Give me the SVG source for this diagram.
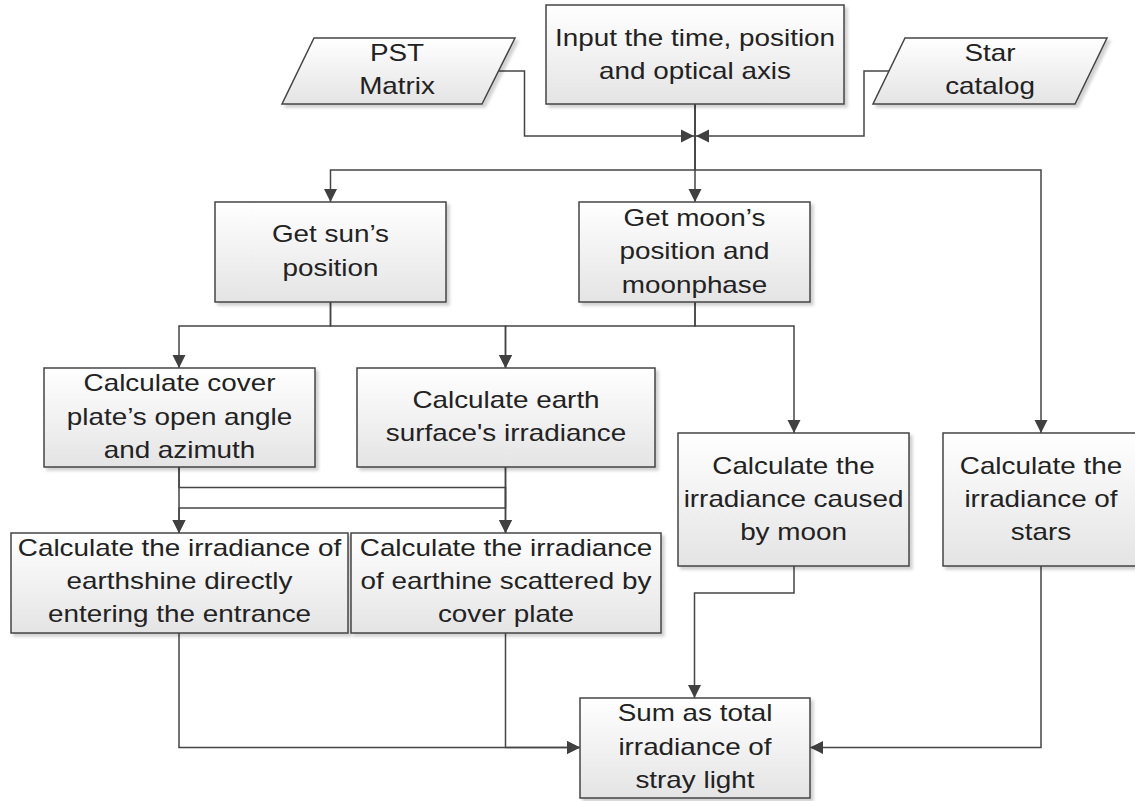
<svg xmlns="http://www.w3.org/2000/svg" width="1135" height="801" viewBox="0 0 1135 801">
<defs>
<linearGradient id="g" x1="0" y1="0" x2="0" y2="1">
<stop offset="0" stop-color="#ffffff"/>
<stop offset="1" stop-color="#e4e4e4"/>
</linearGradient>
<filter id="sh" x="-10%" y="-10%" width="130%" height="130%">
<feDropShadow dx="3" dy="3" stdDeviation="1.5" flood-color="#000" flood-opacity="0.18"/>
</filter>
<marker id="ah" markerUnits="userSpaceOnUse" markerWidth="16" markerHeight="14" refX="13" refY="7" orient="auto">
<path d="M0,0.5 L13,7 L0,13.5 Z" fill="#404040"/>
</marker>
</defs>
<style>
.b{fill:url(#g);stroke:#454545;stroke-width:1.5;filter:url(#sh)}
.t{font-family:"Liberation Sans",Arial,sans-serif;font-size:24px;fill:#222222;text-anchor:middle}
.c{fill:none;stroke:#454545;stroke-width:1.5}
</style>
<rect width="1135" height="801" fill="#ffffff"/>

<g id="connectors">
<path class="c" d="M499,71 H524.5 V136 H694" marker-end="url(#ah)"/>
<path class="c" d="M889,71 H864 V136 H696" marker-end="url(#ah)"/>
<path class="c" d="M695,104 V202" marker-end="url(#ah)"/>
<path class="c" d="M695,104 V170 H330.5 V202" marker-end="url(#ah)"/>
<path class="c" d="M695,104 V170 H1041 V433" marker-end="url(#ah)"/>
<path class="c" d="M330.5,302 V326 H179 V368" marker-end="url(#ah)"/>
<path class="c" d="M330.5,302 V326 H505.5 V368" marker-end="url(#ah)"/>
<path class="c" d="M695,302 V326 H505.5 V368" marker-end="url(#ah)"/>
<path class="c" d="M695,302 V326 H794 V433" marker-end="url(#ah)"/>
<path class="c" d="M179,467 V533" marker-end="url(#ah)"/>
<path class="c" d="M505.5,467 V533" marker-end="url(#ah)"/>
<path class="c" d="M179,467 V487.5 H505.5 V533" marker-end="url(#ah)"/>
<path class="c" d="M505.5,467 V508 H179 V533" marker-end="url(#ah)"/>
<path class="c" d="M179,633 V747.5 H580" marker-end="url(#ah)"/>
<path class="c" d="M505.5,633 V747.5 H580" marker-end="url(#ah)"/>
<path class="c" d="M794,566 V593 H694.5 V698" marker-end="url(#ah)"/>
<path class="c" d="M1041,566 V747.5 H810" marker-end="url(#ah)"/>
</g>

<g id="input">
<rect class="b" x="546" y="5" width="298" height="99"/>
<text class="t" transform="matrix(1.16 0 0 1 695 0)"><tspan x="0" y="46">Input the time, position</tspan><tspan x="0" y="79">and optical axis</tspan></text>
</g>

<g id="pst">
<polygon class="b" points="314,38 515,38 482,104 282,104"/>
<text class="t" transform="matrix(1.16 0 0 1 397 0)"><tspan x="0" y="61.5">PST</tspan><tspan x="0" y="94.5">Matrix</tspan></text>
</g>

<g id="star">
<polygon class="b" points="905,38 1107,38 1075,104 873,104"/>
<text class="t" transform="matrix(1.16 0 0 1 990 0)"><tspan x="0" y="61.5">Star</tspan><tspan x="0" y="94.5">catalog</tspan></text>
</g>

<g id="sun">
<rect class="b" x="215" y="202" width="231" height="100"/>
<text class="t" transform="matrix(1.16 0 0 1 330.5 0)"><tspan x="0" y="242.5">Get sun’s</tspan><tspan x="0" y="276">position</tspan></text>
</g>

<g id="moon">
<rect class="b" x="579" y="202" width="231" height="100"/>
<text class="t" transform="matrix(1.16 0 0 1 694.5 0)"><tspan x="0" y="226">Get moon’s</tspan><tspan x="0" y="259.5">position and</tspan><tspan x="0" y="293">moonphase</tspan></text>
</g>

<g id="cover">
<rect class="b" x="44" y="368" width="271" height="99"/>
<text class="t" transform="matrix(1.16 0 0 1 179.5 0)"><tspan x="0" y="391.5">Calculate cover</tspan><tspan x="0" y="425">plate’s open angle</tspan><tspan x="0" y="458.5">and azimuth</tspan></text>
</g>

<g id="earth">
<rect class="b" x="357" y="368" width="298" height="99"/>
<text class="t" transform="matrix(1.16 0 0 1 506 0)"><tspan x="0" y="408.5">Calculate earth</tspan><tspan x="0" y="441.5">surface's irradiance</tspan></text>
</g>

<g id="moonirr">
<rect class="b" x="678" y="433" width="231" height="133"/>
<text class="t" transform="matrix(1.16 0 0 1 793.5 0)"><tspan x="0" y="474">Calculate the</tspan><tspan x="0" y="507">irradiance caused</tspan><tspan x="0" y="540">by moon</tspan></text>
</g>

<g id="stars">
<rect class="b" x="943" y="433" width="196" height="133"/>
<text class="t" transform="matrix(1.16 0 0 1 1041 0)"><tspan x="0" y="474">Calculate the</tspan><tspan x="0" y="507">irradiance of</tspan><tspan x="0" y="540">stars</tspan></text>
</g>

<g id="earthshine">
<rect class="b" x="11" y="533" width="337" height="100"/>
<text class="t" transform="matrix(1.16 0 0 1 179.5 0)"><tspan x="0" y="556">Calculate the irradiance of</tspan><tspan x="0" y="589">earthshine directly</tspan><tspan x="0" y="622">entering the entrance</tspan></text>
</g>

<g id="earthine">
<rect class="b" x="351" y="533" width="310" height="100"/>
<text class="t" transform="matrix(1.16 0 0 1 506 0)"><tspan x="0" y="556">Calculate the irradiance</tspan><tspan x="0" y="589">of earthine scattered by</tspan><tspan x="0" y="622">cover plate</tspan></text>
</g>

<g id="sum">
<rect class="b" x="580" y="698" width="230" height="100"/>
<text class="t" transform="matrix(1.16 0 0 1 695 0)"><tspan x="0" y="721.5">Sum as total</tspan><tspan x="0" y="755">irradiance of</tspan><tspan x="0" y="788.5">stray light</tspan></text>
</g>
</svg>
